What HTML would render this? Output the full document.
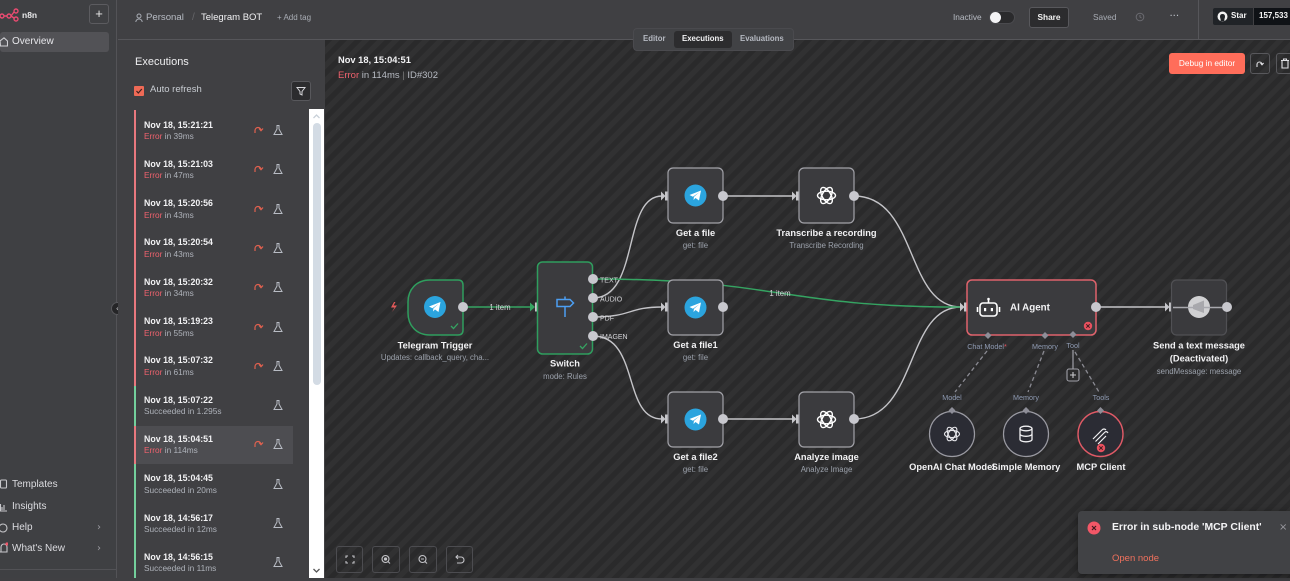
<!DOCTYPE html>
<html><head><meta charset="utf-8">
<style>
*{margin:0;padding:0;box-sizing:border-box}
body{width:1290px;height:578px;overflow:hidden;background:#404043;font-family:"Liberation Sans",sans-serif;position:relative;color:#eee}
.a{position:absolute;white-space:nowrap}
.it{position:absolute;left:136px;width:157px;height:39px}
.it .t{position:absolute;left:8px;top:8.5px;font:bold 8.8px/12px "Liberation Sans",sans-serif;color:#f2f2f4}
.it .s{position:absolute;left:8px;top:21px;font:8.3px/10px "Liberation Sans",sans-serif;color:#aeb2ba}
.er{color:#f0626e}
.it svg{position:absolute;top:14px}
.nav{position:absolute;left:12px;font:10px/12px "Liberation Sans",sans-serif;color:#dcdce0}
.chev{position:absolute;left:97px;font:10px/12px "DejaVu Sans",sans-serif;color:#9a9aa0}
.btn{position:absolute;border:1px solid #535356;border-radius:3px}
</style></head><body>

<!-- sidebar -->
<div class="a" style="left:0;top:0;width:117px;height:578px;background:#3f4043;border-right:1px solid #535357"></div>
<svg class="a" style="left:0;top:8px" width="20" height="14"><g fill="none" stroke="#ea4b71" stroke-width="1.4"><circle cx="2" cy="8" r="2"/><circle cx="9" cy="8" r="2"/><circle cx="16" cy="3" r="2"/><circle cx="16" cy="11" r="2"/><path d="M4,8H7M11,8 L14,4 M11,8 L14,10"/></g></svg>
<div class="a" style="left:22px;top:9px;font:bold 8.5px/12px 'Liberation Sans',sans-serif;color:#eaeaec">n8n</div>
<div class="btn" style="left:89px;top:4px;width:20px;height:20px;border-color:#5c5c60;color:#e8e8e8;font:13px/18px 'Liberation Sans',sans-serif;text-align:center">+</div>
<div class="a" style="left:0;top:32px;width:109px;height:20px;background:#525256;border-radius:3px"></div>
<svg class="a" style="left:0;top:37px" width="8" height="10"><path d="M0,4 L4,0.8 L7.5,4 V9 H0.5 Z" fill="none" stroke="#d0d0d4" stroke-width="1.1"/></svg>
<div class="nav" style="top:36px;color:#e6e6ea">Overview</div>

<svg class="a" style="left:0;top:479px" width="8" height="76"><g fill="none" stroke="#c8c8cc" stroke-width="1.1"><rect x="0.5" y="1" width="6" height="8" rx="1"/><path d="M0.5,25 V32 H7 M2,31 V28 M4,31 V26"/><circle cx="3" cy="49" r="4"/><path d="M1,73 V68 a3,3 0 0 1 6,0 V73 H0"/></g><circle cx="7" cy="65" r="1.6" fill="#f0566a"/></svg>
<div class="nav" style="top:478.5px">Templates</div>
<div class="nav" style="top:501px">Insights</div>
<div class="nav" style="top:522px">Help</div>
<div class="chev" style="top:522px">›</div>
<div class="nav" style="top:542.5px">What's New</div>
<div class="chev" style="top:542.5px">›</div>
<div class="a" style="left:0;top:569px;width:117px;height:1px;background:#525256"></div>
<div class="a" style="left:111px;top:302px;width:13px;height:13px;border-radius:50%;background:#252527;border:1px solid #58585c;color:#cfcfd3;font:8px/11px 'DejaVu Sans',sans-serif;text-align:center">‹</div>

<!-- top bar -->
<div class="a" style="left:118px;top:0;width:1172px;height:40px;background:#404043;border-bottom:1px solid #56565a"></div>
<svg class="a" style="left:135px;top:13px" width="8" height="10"><g fill="none" stroke="#a8acb4" stroke-width="1"><circle cx="4" cy="3" r="2"/><path d="M0.8,9 a3.2,3 0 0 1 6.4,0"/></g></svg>
<div class="a" style="left:146px;top:12px;font:9.6px/12px 'Liberation Sans',sans-serif;color:#b8bcc4">Personal</div>
<div class="a" style="left:192px;top:12px;font:10px/12px 'Liberation Sans',sans-serif;color:#66666a">/</div>
<div class="a" style="left:201px;top:12px;font:9.5px/12px 'Liberation Sans',sans-serif;color:#f2f2f4">Telegram BOT</div>
<div class="a" style="left:277px;top:12px;font:8px/12px 'Liberation Sans',sans-serif;color:#a9adb5">+ Add tag</div>

<div class="a" style="left:953px;top:11px;font:8.3px/12px 'Liberation Sans',sans-serif;color:#b8bcc4">Inactive</div>
<div class="a" style="left:989px;top:11px;width:26px;height:13px;border-radius:7px;background:#2a2a2c;border:1px solid #4a4a4e"></div>
<div class="a" style="left:990px;top:12px;width:11px;height:11px;border-radius:50%;background:#f4f4f6"></div>
<div class="btn" style="left:1029px;top:7px;width:40px;height:21px;background:#2c2c2e;border-color:#58585c;color:#f2f2f2;font:bold 8.3px/19px 'Liberation Sans',sans-serif;text-align:center">Share</div>
<div class="a" style="left:1093px;top:11px;font:8.3px/12px 'Liberation Sans',sans-serif;color:#a8acb4">Saved</div>
<svg class="a" style="left:1135px;top:12px" width="10" height="10"><circle cx="5" cy="5" r="3.8" fill="none" stroke="#6a6a70" stroke-width="1"/><path d="M5,3 V5 L6.5,6" stroke="#6a6a70" fill="none"/></svg>
<div class="a" style="left:1170px;top:10px;font:bold 8px/12px 'Liberation Sans',sans-serif;color:#b8bcc4;letter-spacing:0.5px">···</div>
<div class="a" style="left:1198px;top:0;width:1px;height:39px;background:#56565a"></div>
<div class="a" style="left:1213px;top:8px;width:40px;height:17px;background:#202327;border-radius:2px 0 0 2px"></div>
<svg class="a" style="left:1217px;top:11px" width="11" height="11"><circle cx="5.5" cy="5.5" r="5" fill="#f2f2f2"/><path d="M3.6,10.3 V8 Q3,7 3,5.5 Q3,3 5.5,3 Q8,3 8,5.5 Q8,7 7.4,8 V10.3 Z" fill="#202327"/></svg>
<div class="a" style="left:1231px;top:10px;font:bold 8px/12px 'Liberation Sans',sans-serif;color:#f6f6f6">Star</div>
<div class="a" style="left:1254px;top:8px;width:36px;height:17px;background:#0f1216"></div>
<div class="a" style="left:1259px;top:10px;font:bold 8px/12px 'Liberation Sans',sans-serif;color:#f6f6f6">157,533</div>

<!-- executions panel -->
<div class="a" style="left:118px;top:40px;width:206px;height:538px;background:#404043"></div>
<div class="a" style="left:135px;top:55px;font:11px/14px 'Liberation Sans',sans-serif;color:#eeeef0">Executions</div>
<div class="a" style="left:134px;top:86px;width:10px;height:10px;background:#ef6a56;border-radius:1px"></div>
<svg class="a" style="left:134px;top:86px" width="10" height="10"><path d="M2.5,5 L4.3,7 L7.8,3" fill="none" stroke="#3a2020" stroke-width="1.2"/></svg>
<div class="a" style="left:150px;top:84px;font:9.5px/12px 'Liberation Sans',sans-serif;color:#c8ccd2">Auto refresh</div>
<div class="btn" style="left:291px;top:81px;width:20px;height:20px;background:#2c2c2e;border-color:#58585c"></div>
<svg class="a" style="left:296px;top:86px" width="10" height="10"><path d="M1,1.5 H9 L6,5.5 V9 L4,8 V5.5 Z" fill="none" stroke="#d6d6da" stroke-width="1"/></svg>

<div class="a" style="left:134px;top:110px;width:2px;height:276px;background:#e8787e"></div>
<div class="a" style="left:134px;top:386px;width:2px;height:40px;background:#73cf9c"></div>
<div class="a" style="left:134px;top:426px;width:2px;height:38px;background:#e8787e"></div>
<div class="a" style="left:134px;top:464px;width:2px;height:114px;background:#73cf9c"></div>
<div class="a" style="left:136px;top:426px;width:157px;height:38px;background:#4d4d51"></div>

<div class="it" style="top:110px"><div class="t">Nov 18, 15:21:21</div><div class="s"><span class="er">Error</span> in 39ms</div><svg style="left:116px" width="12" height="12"><path d="M3,9 V6.5 a3,3 0 0 1 6,0 M7,4.5 L9,6.7 L11,4.5" fill="none" stroke="#e0614f" stroke-width="1.2"/></svg><svg style="left:136px" width="12" height="12"><path d="M4.5,1.5 H7.5 M5,1.5 V5 L2,10.5 H10 L7,5 V1.5" fill="none" stroke="#b8bcc4" stroke-width="1"/></svg></div>
<div class="it" style="top:149.3px"><div class="t">Nov 18, 15:21:03</div><div class="s"><span class="er">Error</span> in 47ms</div><svg style="left:116px" width="12" height="12"><path d="M3,9 V6.5 a3,3 0 0 1 6,0 M7,4.5 L9,6.7 L11,4.5" fill="none" stroke="#e0614f" stroke-width="1.2"/></svg><svg style="left:136px" width="12" height="12"><path d="M4.5,1.5 H7.5 M5,1.5 V5 L2,10.5 H10 L7,5 V1.5" fill="none" stroke="#b8bcc4" stroke-width="1"/></svg></div>
<div class="it" style="top:188.6px"><div class="t">Nov 18, 15:20:56</div><div class="s"><span class="er">Error</span> in 43ms</div><svg style="left:116px" width="12" height="12"><path d="M3,9 V6.5 a3,3 0 0 1 6,0 M7,4.5 L9,6.7 L11,4.5" fill="none" stroke="#e0614f" stroke-width="1.2"/></svg><svg style="left:136px" width="12" height="12"><path d="M4.5,1.5 H7.5 M5,1.5 V5 L2,10.5 H10 L7,5 V1.5" fill="none" stroke="#b8bcc4" stroke-width="1"/></svg></div>
<div class="it" style="top:227.9px"><div class="t">Nov 18, 15:20:54</div><div class="s"><span class="er">Error</span> in 43ms</div><svg style="left:116px" width="12" height="12"><path d="M3,9 V6.5 a3,3 0 0 1 6,0 M7,4.5 L9,6.7 L11,4.5" fill="none" stroke="#e0614f" stroke-width="1.2"/></svg><svg style="left:136px" width="12" height="12"><path d="M4.5,1.5 H7.5 M5,1.5 V5 L2,10.5 H10 L7,5 V1.5" fill="none" stroke="#b8bcc4" stroke-width="1"/></svg></div>
<div class="it" style="top:267.2px"><div class="t">Nov 18, 15:20:32</div><div class="s"><span class="er">Error</span> in 34ms</div><svg style="left:116px" width="12" height="12"><path d="M3,9 V6.5 a3,3 0 0 1 6,0 M7,4.5 L9,6.7 L11,4.5" fill="none" stroke="#e0614f" stroke-width="1.2"/></svg><svg style="left:136px" width="12" height="12"><path d="M4.5,1.5 H7.5 M5,1.5 V5 L2,10.5 H10 L7,5 V1.5" fill="none" stroke="#b8bcc4" stroke-width="1"/></svg></div>
<div class="it" style="top:306.5px"><div class="t">Nov 18, 15:19:23</div><div class="s"><span class="er">Error</span> in 55ms</div><svg style="left:116px" width="12" height="12"><path d="M3,9 V6.5 a3,3 0 0 1 6,0 M7,4.5 L9,6.7 L11,4.5" fill="none" stroke="#e0614f" stroke-width="1.2"/></svg><svg style="left:136px" width="12" height="12"><path d="M4.5,1.5 H7.5 M5,1.5 V5 L2,10.5 H10 L7,5 V1.5" fill="none" stroke="#b8bcc4" stroke-width="1"/></svg></div>
<div class="it" style="top:345.8px"><div class="t">Nov 18, 15:07:32</div><div class="s"><span class="er">Error</span> in 61ms</div><svg style="left:116px" width="12" height="12"><path d="M3,9 V6.5 a3,3 0 0 1 6,0 M7,4.5 L9,6.7 L11,4.5" fill="none" stroke="#e0614f" stroke-width="1.2"/></svg><svg style="left:136px" width="12" height="12"><path d="M4.5,1.5 H7.5 M5,1.5 V5 L2,10.5 H10 L7,5 V1.5" fill="none" stroke="#b8bcc4" stroke-width="1"/></svg></div>
<div class="it" style="top:385.1px"><div class="t">Nov 18, 15:07:22</div><div class="s">Succeeded in 1.295s</div><svg style="left:136px" width="12" height="12"><path d="M4.5,1.5 H7.5 M5,1.5 V5 L2,10.5 H10 L7,5 V1.5" fill="none" stroke="#b8bcc4" stroke-width="1"/></svg></div>
<div class="it" style="top:424.4px"><div class="t">Nov 18, 15:04:51</div><div class="s"><span class="er">Error</span> in 114ms</div><svg style="left:116px" width="12" height="12"><path d="M3,9 V6.5 a3,3 0 0 1 6,0 M7,4.5 L9,6.7 L11,4.5" fill="none" stroke="#e0614f" stroke-width="1.2"/></svg><svg style="left:136px" width="12" height="12"><path d="M4.5,1.5 H7.5 M5,1.5 V5 L2,10.5 H10 L7,5 V1.5" fill="none" stroke="#b8bcc4" stroke-width="1"/></svg></div>
<div class="it" style="top:463.7px"><div class="t">Nov 18, 15:04:45</div><div class="s">Succeeded in 20ms</div><svg style="left:136px" width="12" height="12"><path d="M4.5,1.5 H7.5 M5,1.5 V5 L2,10.5 H10 L7,5 V1.5" fill="none" stroke="#b8bcc4" stroke-width="1"/></svg></div>
<div class="it" style="top:503px"><div class="t">Nov 18, 14:56:17</div><div class="s">Succeeded in 12ms</div><svg style="left:136px" width="12" height="12"><path d="M4.5,1.5 H7.5 M5,1.5 V5 L2,10.5 H10 L7,5 V1.5" fill="none" stroke="#b8bcc4" stroke-width="1"/></svg></div>
<div class="it" style="top:542.3px"><div class="t">Nov 18, 14:56:15</div><div class="s">Succeeded in 11ms</div><svg style="left:136px" width="12" height="12"><path d="M4.5,1.5 H7.5 M5,1.5 V5 L2,10.5 H10 L7,5 V1.5" fill="none" stroke="#b8bcc4" stroke-width="1"/></svg></div>

<!-- scrollbar -->
<div class="a" style="left:309px;top:109px;width:15px;height:469px;background:#ffffff"></div>
<div class="a" style="left:313px;top:123px;width:8px;height:262px;background:#d3dbe4;border-radius:4px"></div>
<svg class="a" style="left:311px;top:111px" width="11" height="467"><path d="M2.5,7 L5.5,4 L8.5,7" fill="none" stroke="#c8d0d8" stroke-width="1.3"/><path d="M2.5,458 L5.5,461 L8.5,458" fill="none" stroke="#555" stroke-width="1.3"/></svg>

<!-- canvas -->
<div class="a" style="left:325px;top:40px;width:965px;height:538px;background:repeating-linear-gradient(135deg,#2a2a2b 0px,#2a2a2b 5.3px,#313132 5.3px,#313132 10.6px)"></div>

<!-- tabs -->
<div class="a" style="left:633px;top:28px;width:161px;height:23px;background:#414245;border-radius:4px;border:1px solid #4a4a4e"></div>
<div class="a" style="left:674px;top:31px;width:58px;height:17px;background:#2c2c2e;border-radius:3px"></div>
<div class="a" style="left:643px;top:33px;font:bold 7.8px/12px 'Liberation Sans',sans-serif;color:#b6bac2">Editor</div>
<div class="a" style="left:682px;top:33px;font:bold 7.8px/12px 'Liberation Sans',sans-serif;color:#f4f4f6">Executions</div>
<div class="a" style="left:740px;top:33px;font:bold 7.8px/12px 'Liberation Sans',sans-serif;color:#b6bac2">Evaluations</div>

<div class="a" style="left:338px;top:54px;font:bold 9.3px/12px 'Liberation Sans',sans-serif;color:#f2f2f4">Nov 18, 15:04:51</div>
<div class="a" style="left:338px;top:70px;font:9.5px/12px 'Liberation Sans',sans-serif;color:#b8bcc4"><span style="color:#f0626e">Error</span> in 114ms <span style="color:#777">|</span> ID#302</div>

<div class="a" style="left:1169px;top:53px;width:76px;height:21px;background:#ff6d5a;border-radius:3px;color:#fff;font:8.3px/21px 'Liberation Sans',sans-serif;text-align:center">Debug in editor</div>
<div class="btn" style="left:1250px;top:53px;width:20px;height:21px;border-color:#58585c"></div>
<svg class="a" style="left:1255px;top:59px" width="10" height="10"><path d="M2,8 V5.5 a2.5,2.5 0 0 1 5,0 M5.5,4 L7,5.8 L8.6,4" fill="none" stroke="#e0e0e4" stroke-width="1.1"/></svg>
<div class="btn" style="left:1276px;top:53px;width:20px;height:21px;border-color:#58585c"></div>
<svg class="a" style="left:1280px;top:58px" width="10" height="11"><path d="M1,2.5 H9 M3.5,2.5 V1 H6.5 V2.5 M2,3 V10 H8 V3" fill="none" stroke="#e0e0e4" stroke-width="1.1"/></svg>

<svg class="a" style="left:0;top:0" width="1290" height="578" font-family="Liberation Sans, sans-serif">
<!-- edges -->
<g fill="none" stroke="#c4c4c8" stroke-width="1.4">
<path d="M593,298 C640,298 622,196 662,196"/>
<path d="M593,317 C632,317 628,307 662,307"/>
<path d="M593,336 C640,336 622,419 662,419"/>
<path d="M723,196 L793,196"/>
<path d="M854,196 C918,196 905,307 961,307"/>
<path d="M723,419 L793,419"/>
<path d="M854,419 C918,419 905,307 961,307"/>
<path d="M1096,307 L1166,307"/>
</g>
<g fill="none" stroke="#35a462" stroke-width="1.5">
<path d="M463,307 L531,307"/>
<path d="M593,279 C780,279 780,307 961,307"/>
</g>
<!-- dashed sub connections -->
<g fill="none" stroke="#8a8a92" stroke-width="1.3" stroke-dasharray="4,3">
<path d="M987,351 L955,392"/>
<path d="M1044,351 L1028,392"/>
<path d="M1075,352 L1099,392"/>
</g>
<path d="M1073,350 V369" stroke="#a0a0a8" stroke-width="1.2"/>
<rect x="1067" y="369" width="12" height="12" rx="2" fill="#2b2b2c" stroke="#a0a0a8" stroke-width="1.1"/>
<path d="M1073,372 V378 M1070,375 H1076" stroke="#c8c8cc" stroke-width="1.1"/>

<!-- input handles -->
<g fill="#c6c6ca">
<polygon points="661,191.5 665.5,196 661,200.5"/><rect x="665" y="191.5" width="4" height="9"/>
<polygon points="792,191.5 796.5,196 792,200.5"/><rect x="796" y="191.5" width="4" height="9"/>
<polygon points="661,302.5 665.5,307 661,311.5"/><rect x="665" y="302.5" width="4" height="9"/>
<polygon points="661,414.5 665.5,419 661,423.5"/><rect x="665" y="414.5" width="4" height="9"/>
<polygon points="792,414.5 796.5,419 792,423.5"/><rect x="796" y="414.5" width="4" height="9"/>
<polygon points="960,302.5 964.5,307 960,311.5"/><rect x="964" y="302.5" width="4" height="9"/>
<polygon points="1165,302.5 1169.5,307 1165,311.5"/><rect x="1169" y="302.5" width="4" height="9"/>
<rect x="535" y="302.5" width="4" height="9"/>
</g>
<polygon points="530,302.5 535,307 530,311.5" fill="#35a462"/>

<!-- Telegram Trigger -->
<path d="M430,280 L458,280 Q463,280 463,285 L463,330 Q463,335 458,335 L430,335 C416,335 408,325 408,313 L408,302 C408,290 416,280 430,280 Z" fill="#3b3b3e" stroke="#2f9e5e" stroke-width="1.5"/>
<circle cx="435" cy="307" r="11" fill="#2ba4de"/>
<path d="M429,306.5 L440.5,302 L438.5,312 L435,309.5 L433,311.5 L433.4,308.4 L438.8,303.8 L432.4,308.2 Z" fill="#fff"/>
<path d="M451,326 L453.5,328.5 L458,323.5" fill="none" stroke="#35a462" stroke-width="1.3"/>
<path d="M394,302 L391,307.5 L394.5,307.5 L392,312 L397,305.5 L393.5,305.5 L395.5,302 Z" fill="#e45a5a"/>
<text x="435" y="348.5" text-anchor="middle" font-size="9.3" font-weight="bold" fill="#f2f2f4">Telegram Trigger</text>
<text x="435" y="360" text-anchor="middle" font-size="7.8" fill="#9ba1ab">Updates: callback_query, cha...</text>
<text x="500" y="310" text-anchor="middle" font-size="7.8" fill="#d2d2d6">1 item</text>

<!-- Switch -->
<rect x="537.5" y="262" width="55" height="92" rx="5" fill="#3b3b3e" stroke="#2f9e5e" stroke-width="1.5"/>
<g fill="none" stroke="#4c9ef2" stroke-width="1.5"><path d="M557,299.5 H570 L573.5,303 L570,306.5 H557 Z"/><path d="M565,299.5 V296.5 M565,306.5 V317"/></g>
<path d="M580,346 L582.5,348.5 L587,343.5" fill="none" stroke="#35a462" stroke-width="1.3"/>
<text x="565" y="366.5" text-anchor="middle" font-size="9.3" font-weight="bold" fill="#f2f2f4">Switch</text>
<text x="565" y="379" text-anchor="middle" font-size="7.8" fill="#9ba1ab">mode: Rules</text>

<!-- Get a file -->
<rect x="668" y="168" width="55" height="55" rx="5" fill="#3b3b3e" stroke="#a2a2a8" stroke-width="1.2"/>
<circle cx="695.5" cy="195.5" r="11" fill="#2ba4de"/>
<path d="M689.5,195 L701,190.5 L699,200.5 L695.5,198 L693.5,200 L693.9,196.9 L699.3,192.3 L692.9,196.7 Z" fill="#fff"/>
<text x="695.5" y="236" text-anchor="middle" font-size="9.3" font-weight="bold" fill="#f2f2f4">Get a file</text>
<text x="695.5" y="248" text-anchor="middle" font-size="7.8" fill="#9ba1ab">get: file</text>

<!-- Transcribe -->
<rect x="799" y="168" width="55" height="55" rx="5" fill="#3b3b3e" stroke="#a2a2a8" stroke-width="1.2"/>
<g fill="none" stroke="#fff" stroke-width="1.4" transform="translate(826.5,195.5)"><ellipse rx="9" ry="4.3"/><ellipse rx="9" ry="4.3" transform="rotate(60)"/><ellipse rx="9" ry="4.3" transform="rotate(120)"/></g>
<text x="826.5" y="236" text-anchor="middle" font-size="9.3" font-weight="bold" fill="#f2f2f4">Transcribe a recording</text>
<text x="826.5" y="248" text-anchor="middle" font-size="7.8" fill="#9ba1ab">Transcribe Recording</text>

<!-- Get a file1 -->
<rect x="668" y="280" width="55" height="55" rx="5" fill="#3b3b3e" stroke="#a2a2a8" stroke-width="1.2"/>
<circle cx="695.5" cy="307.5" r="11" fill="#2ba4de"/>
<path d="M689.5,307 L701,302.5 L699,312.5 L695.5,310 L693.5,312 L693.9,308.9 L699.3,304.3 L692.9,308.7 Z" fill="#fff"/>
<text x="695.5" y="348" text-anchor="middle" font-size="9.3" font-weight="bold" fill="#f2f2f4">Get a file1</text>
<text x="695.5" y="360" text-anchor="middle" font-size="7.8" fill="#9ba1ab">get: file</text>
<text x="780" y="296" text-anchor="middle" font-size="7.8" fill="#d2d2d6">1 item</text>

<!-- Get a file2 -->
<rect x="668" y="392" width="55" height="55" rx="5" fill="#3b3b3e" stroke="#a2a2a8" stroke-width="1.2"/>
<circle cx="695.5" cy="419.5" r="11" fill="#2ba4de"/>
<path d="M689.5,419 L701,414.5 L699,424.5 L695.5,422 L693.5,424 L693.9,420.9 L699.3,416.3 L692.9,420.7 Z" fill="#fff"/>
<text x="695.5" y="460" text-anchor="middle" font-size="9.3" font-weight="bold" fill="#f2f2f4">Get a file2</text>
<text x="695.5" y="472" text-anchor="middle" font-size="7.8" fill="#9ba1ab">get: file</text>

<!-- Analyze image -->
<rect x="799" y="392" width="55" height="55" rx="5" fill="#3b3b3e" stroke="#a2a2a8" stroke-width="1.2"/>
<g fill="none" stroke="#fff" stroke-width="1.4" transform="translate(826.5,419.5)"><ellipse rx="9" ry="4.3"/><ellipse rx="9" ry="4.3" transform="rotate(60)"/><ellipse rx="9" ry="4.3" transform="rotate(120)"/></g>
<text x="826.5" y="460" text-anchor="middle" font-size="9.3" font-weight="bold" fill="#f2f2f4">Analyze image</text>
<text x="826.5" y="472" text-anchor="middle" font-size="7.8" fill="#9ba1ab">Analyze Image</text>

<!-- AI Agent -->
<rect x="967" y="280" width="129" height="55" rx="5" fill="#3b3b3e" stroke="#e0636c" stroke-width="1.5"/>
<g fill="none" stroke="#fff" stroke-width="1.6"><rect x="980" y="303" width="17" height="13" rx="3"/><path d="M988.5,303 V300 M977.5,307 V312 M999.5,307 V312"/></g>
<circle cx="988.5" cy="299" r="1.3" fill="#fff"/>
<rect x="984" y="308" width="2.2" height="3.2" fill="#fff"/><rect x="990.8" y="308" width="2.2" height="3.2" fill="#fff"/>
<text x="1010" y="310.5" font-size="9.8" font-weight="bold" fill="#f2f2f4">AI Agent</text>
<circle cx="1088" cy="326" r="4.2" fill="#e8505e"/>
<path d="M1086.3,324.3 L1089.7,327.7 M1089.7,324.3 L1086.3,327.7" stroke="#3a1a1e" stroke-width="1"/>
<g fill="#8e8e98"><polygon points="988,332 991.5,335.5 988,339 984.5,335.5"/><polygon points="1045,332 1048.5,335.5 1045,339 1041.5,335.5"/><polygon points="1073,331 1076.5,334.5 1073,338 1069.5,334.5"/></g>
<text x="987" y="349" text-anchor="middle" font-size="7.2" fill="#8e9ab2">Chat Model<tspan fill="#e8505e">*</tspan></text>
<text x="1045" y="349" text-anchor="middle" font-size="7.2" fill="#8e9ab2">Memory</text>
<text x="1073" y="348" text-anchor="middle" font-size="7.2" fill="#8e9ab2">Tool</text>

<!-- Send a text message (deactivated) -->
<rect x="1171.5" y="280" width="55" height="55" rx="5" fill="#3a3a3d" stroke="#505054" stroke-width="1.2"/>
<circle cx="1199" cy="307" r="11" fill="#d0d0d2"/>
<polygon points="1193,305 1204,300.5 1204,313 1193,309" fill="#a8a8ac"/>
<path d="M1173,307.5 H1222" stroke="#a8a8ae" stroke-width="1.4"/>
<text x="1199" y="348.5" text-anchor="middle" font-size="9.3" font-weight="bold" fill="#f2f2f4">Send a text message</text>
<text x="1199" y="361.5" text-anchor="middle" font-size="9.3" font-weight="bold" fill="#f2f2f4">(Deactivated)</text>
<text x="1199" y="374" text-anchor="middle" font-size="7.8" fill="#9ba1ab">sendMessage: message</text>

<!-- output dots -->
<g fill="#c8c8ce">
<circle cx="463" cy="307" r="5"/>
<circle cx="593" cy="279" r="5"/><circle cx="593" cy="298" r="5"/><circle cx="593" cy="317" r="5"/><circle cx="593" cy="336" r="5"/>
<circle cx="723" cy="196" r="5"/><circle cx="854" cy="196" r="5"/><circle cx="723" cy="307" r="5"/>
<circle cx="723" cy="419" r="5"/><circle cx="854" cy="419" r="5"/>
<circle cx="1096" cy="307" r="5"/><circle cx="1227" cy="307" r="5"/>
</g>
<g font-size="7" fill="#d4d4d8">
<text x="600" y="282.5">TEXT</text><text x="600" y="301.5">AUDIO</text><text x="600" y="320.5">PDF</text><text x="600" y="339">IMAGEN</text>
</g>

<!-- sub nodes -->
<g font-size="7.2" fill="#8e9ab2" text-anchor="middle">
<text x="952" y="400">Model</text><text x="1026" y="400">Memory</text><text x="1101" y="400">Tools</text>
</g>
<circle cx="952" cy="434" r="22.5" fill="#2b2c34" stroke="#9a9aa2" stroke-width="1.2"/>
<circle cx="1026" cy="434" r="22.5" fill="#2b2c34" stroke="#9a9aa2" stroke-width="1.2"/>
<circle cx="1100.5" cy="434" r="22.5" fill="#2b2c34" stroke="#e05a66" stroke-width="1.4"/>
<g fill="#8e8e98"><polygon points="952,407 955.5,410.5 952,414 948.5,410.5"/><polygon points="1026,407 1029.5,410.5 1026,414 1022.5,410.5"/><polygon points="1100.5,407 1104,410.5 1100.5,414 1097,410.5"/></g>
<g fill="none" stroke="#e6e6ea" stroke-width="1.1" transform="translate(952,434)"><ellipse rx="7.5" ry="3.6"/><ellipse rx="7.5" ry="3.6" transform="rotate(60)"/><ellipse rx="7.5" ry="3.6" transform="rotate(120)"/></g>
<g fill="none" stroke="#f0f0f2" stroke-width="1.3"><ellipse cx="1026" cy="428.5" rx="6" ry="2.3"/><path d="M1020,428.5 V439.5 A6,2.3 0 0 0 1032,439.5 V428.5 M1020,434 A6,2.3 0 0 0 1032,434"/></g>
<g fill="none" stroke="#f0f0f2" stroke-width="1.2"><path d="M1093,439 L1102,430 M1095.5,441.5 L1104.5,432.5 M1098,444 L1106,436 M1102,430 Q1104,428 1106,430 M1104.5,432.5 Q1106.5,430.5 1108,433"/></g>
<circle cx="1101" cy="448" r="4.2" fill="#e8505e"/>
<path d="M1099.3,446.3 L1102.7,449.7 M1102.7,446.3 L1099.3,449.7" stroke="#3a1a1e" stroke-width="1"/>
<g font-size="9.3" font-weight="bold" fill="#f2f2f4" text-anchor="middle">
<text x="952" y="470">OpenAI Chat Model</text><text x="1026" y="470">Simple Memory</text><text x="1101" y="470">MCP Client</text>
</g>
</svg>

<!-- canvas controls -->
<div class="btn" style="left:336px;top:546px;width:27px;height:27px;border-color:#4c4c50"></div>
<div class="btn" style="left:372px;top:546px;width:28px;height:27px;border-color:#4c4c50"></div>
<div class="btn" style="left:409px;top:546px;width:28px;height:27px;border-color:#4c4c50"></div>
<div class="btn" style="left:446px;top:546px;width:27px;height:27px;border-color:#4c4c50"></div>
<svg class="a" style="left:336px;top:546px" width="140" height="27"><g fill="none" stroke="#c4c4c8" stroke-width="1.1">
<path d="M10,12 V10 H12 M16,10 H18 V12 M18,15 V17 H16 M12,17 H10 V15"/>
<circle cx="49.5" cy="13" r="3.5"/><path d="M52,15.5 L54,17.5"/>
<circle cx="86.5" cy="13" r="3.5"/><path d="M89,15.5 L91,17.5 M85,13 H88"/>
<path d="M120,11 H125 a3,3 0 0 1 0,6 H121 M122,9 L120,11 L122,13"/>
</g><circle cx="49.5" cy="13" r="1.6" fill="#c4c4c8"/></svg>

<!-- toast -->
<div class="a" style="left:1078px;top:511px;width:220px;height:63px;background:#414245;border-radius:4px;box-shadow:0 2px 8px rgba(0,0,0,0.4)"></div>
<svg class="a" style="left:1087px;top:521px" width="14" height="14"><circle cx="7" cy="7" r="6.5" fill="#f25767"/><path d="M5,5 L9,9 M9,5 L5,9" stroke="#3a1a1e" stroke-width="1.2"/></svg>
<div class="a" style="left:1112px;top:521px;font:bold 10.4px/14px 'Liberation Sans',sans-serif;color:#f4f4f6">Error in sub-node 'MCP Client'</div>
<div class="a" style="left:1279px;top:521px;font:10px/14px 'DejaVu Sans',sans-serif;color:#9a9aa0">×</div>
<div class="a" style="left:1112px;top:552px;font:9.5px/14px 'Liberation Sans',sans-serif;color:#f0715d">Open node</div>
</body></html>
